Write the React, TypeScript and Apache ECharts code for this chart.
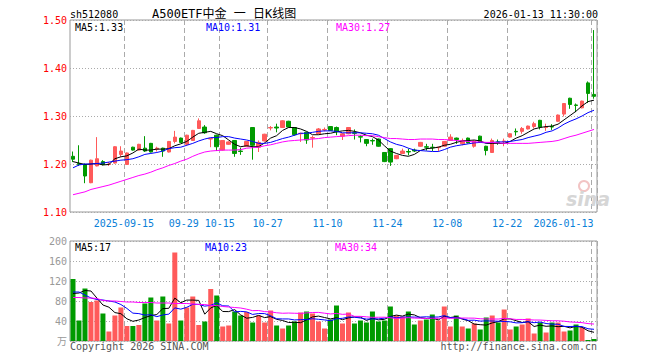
import React, { useEffect, useRef } from 'react';
import * as echarts from 'echarts';

const dates = [
  '2025-09-02','2025-09-03','2025-09-04','2025-09-05','2025-09-08','2025-09-09','2025-09-10','2025-09-11','2025-09-12',
  '2025-09-15','2025-09-16','2025-09-17','2025-09-18','2025-09-19','2025-09-22','2025-09-23','2025-09-24','2025-09-25','2025-09-26',
  '2025-09-29','2025-09-30','2025-10-09','2025-10-10','2025-10-13','2025-10-14','2025-10-15','2025-10-16','2025-10-17',
  '2025-10-20','2025-10-21','2025-10-22','2025-10-23','2025-10-24','2025-10-27','2025-10-28','2025-10-29','2025-10-30','2025-10-31',
  '2025-11-03','2025-11-04','2025-11-05','2025-11-06','2025-11-07','2025-11-10','2025-11-11','2025-11-12','2025-11-13','2025-11-14',
  '2025-11-17','2025-11-18','2025-11-19','2025-11-20','2025-11-21','2025-11-24','2025-11-25','2025-11-26','2025-11-27','2025-11-28',
  '2025-12-01','2025-12-02','2025-12-03','2025-12-04','2025-12-05','2025-12-08','2025-12-09','2025-12-10','2025-12-11','2025-12-12',
  '2025-12-15','2025-12-16','2025-12-17','2025-12-18','2025-12-19','2025-12-22','2025-12-23','2025-12-24','2025-12-25','2025-12-26',
  '2025-12-29','2025-12-30','2025-12-31','2026-01-05','2026-01-06','2026-01-07','2026-01-08','2026-01-09','2026-01-12','2026-01-13',
];

const tickDates = ['2025-09-15','2025-09-29','2025-10-15','2025-10-27','2025-11-10','2025-11-24','2025-12-08','2025-12-22','2026-01-13'];

const opens = [
  1.216,1.201,1.199,1.161,1.196,1.205,1.199,1.202,1.220,1.199,
  1.235,1.229,1.233,1.243,1.231,1.233,1.225,1.247,1.254,1.241,
  1.249,1.274,1.277,1.252,1.260,1.229,1.241,1.249,1.227,1.237,
  1.276,1.235,1.248,1.275,1.277,1.276,1.289,1.276,1.263,1.266,
  1.254,1.263,1.271,1.278,1.276,1.258,1.263,1.265,1.257,1.251,
  1.249,1.252,1.224,1.232,1.211,1.222,1.226,1.229,1.237,1.236,
  1.235,1.234,1.237,1.249,1.254,1.242,1.254,1.237,1.258,1.237,
  1.224,1.246,1.247,1.256,1.268,1.268,1.273,1.278,1.291,1.276,
  1.278,1.289,1.304,1.337,1.323,1.317,1.369,1.345,
];
const closes = [
  1.210,1.199,1.175,1.208,1.211,1.199,1.200,1.236,1.227,1.223,
  1.229,1.241,1.227,1.225,1.233,1.227,1.247,1.256,1.245,1.260,
  1.270,1.290,1.265,1.253,1.236,1.249,1.246,1.222,1.226,1.247,
  1.239,1.245,1.262,1.276,1.275,1.290,1.277,1.261,1.264,1.250,
  1.255,1.273,1.272,1.270,1.267,1.263,1.276,1.264,1.256,1.243,
  1.248,1.237,1.205,1.204,1.218,1.227,1.225,1.227,1.245,1.235,
  1.234,1.235,1.247,1.256,1.251,1.249,1.244,1.248,1.246,1.228,
  1.249,1.245,1.248,1.263,1.267,1.274,1.279,1.284,1.277,1.277,
  1.277,1.302,1.326,1.324,1.322,1.331,1.347,1.341,
];
const lows = [
  1.204,1.196,1.160,1.160,1.195,1.197,1.196,1.201,1.215,1.198,
  1.228,1.228,1.225,1.224,1.226,1.215,1.224,1.243,1.244,1.238,
  1.248,1.273,1.263,1.235,1.227,1.228,1.240,1.215,1.219,1.236,
  1.209,1.225,1.247,1.270,1.266,1.275,1.276,1.259,1.246,1.242,
  1.234,1.262,1.268,1.269,1.260,1.250,1.262,1.251,1.245,1.237,
  1.240,1.236,1.204,1.196,1.210,1.221,1.218,1.225,1.236,1.228,
  1.227,1.226,1.236,1.248,1.242,1.239,1.243,1.234,1.245,1.218,
  1.223,1.240,1.237,1.255,1.259,1.263,1.272,1.274,1.272,1.269,
  1.271,1.288,1.299,1.315,1.308,1.316,1.327,1.336,
];
const highs = [
  1.226,1.239,1.201,1.209,1.256,1.208,1.204,1.237,1.237,1.224,
  1.236,1.242,1.258,1.244,1.236,1.234,1.248,1.269,1.255,1.261,
  1.271,1.295,1.281,1.254,1.261,1.250,1.247,1.250,1.234,1.248,
  1.277,1.249,1.263,1.279,1.284,1.291,1.290,1.277,1.265,1.267,
  1.259,1.275,1.276,1.279,1.278,1.264,1.277,1.272,1.260,1.252,
  1.253,1.253,1.225,1.233,1.219,1.232,1.232,1.232,1.246,1.242,
  1.242,1.236,1.248,1.262,1.255,1.253,1.255,1.249,1.259,1.238,
  1.253,1.251,1.253,1.264,1.274,1.277,1.280,1.288,1.292,1.284,
  1.283,1.303,1.327,1.338,1.326,1.332,1.372,1.479,
];
const volumes = [
  124,41,105,78,81,55,19,51,67,30,
  30,32,75,87,41,89,35,177,41,67,
  89,32,39,104,91,29,31,59,51,58,
  37,51,37,61,31,25,31,39,57,59,
  55,39,25,43,71,35,57,35,41,37,
  59,39,41,69,51,49,59,33,41,43,
  53,41,69,29,51,29,25,35,23,47,
  51,37,63,23,29,33,45,15,37,17,
  37,37,19,21,33,27,2,4,
];
const ma5 = [
  1.205,1.202,1.199,1.200,1.201,1.198,1.199,1.211,1.215,1.217,
  1.223,1.231,1.229,1.229,1.231,1.231,1.232,1.238,1.242,1.247,
  1.256,1.264,1.266,1.268,1.263,1.259,1.250,1.241,1.236,1.238,
  1.236,1.236,1.244,1.254,1.259,1.270,1.276,1.276,1.273,1.268,
  1.261,1.261,1.263,1.264,1.267,1.269,1.270,1.268,1.265,1.260,
  1.257,1.250,1.238,1.227,1.222,1.218,1.216,1.220,1.228,1.232,
  1.233,1.235,1.239,1.241,1.245,1.248,1.249,1.250,1.248,1.243,
  1.243,1.243,1.243,1.247,1.254,1.259,1.266,1.273,1.276,1.278,
  1.279,1.283,1.292,1.301,1.310,1.321,1.330,1.333,
];
const ma10 = [
  1.192,1.198,1.200,1.200,1.201,1.202,1.204,1.206,1.208,1.209,
  1.211,1.215,1.220,1.222,1.224,1.227,1.232,1.234,1.235,1.239,
  1.243,1.248,1.252,1.255,1.255,1.257,1.257,1.254,1.252,1.250,
  1.247,1.243,1.243,1.245,1.249,1.253,1.256,1.260,1.264,1.264,
  1.266,1.268,1.269,1.269,1.268,1.265,1.265,1.265,1.265,1.264,
  1.263,1.260,1.253,1.246,1.241,1.238,1.233,1.229,1.228,1.227,
  1.226,1.226,1.230,1.235,1.238,1.240,1.242,1.244,1.245,1.244,
  1.245,1.246,1.246,1.247,1.249,1.251,1.255,1.258,1.261,1.266,
  1.269,1.275,1.283,1.289,1.294,1.300,1.307,1.312,
];
const ma30 = [
  1.136,1.139,1.142,1.147,1.150,1.153,1.156,1.160,1.164,1.168,
  1.172,1.176,1.179,1.183,1.188,1.192,1.197,1.201,1.206,1.210,
  1.216,1.221,1.225,1.227,1.228,1.229,1.229,1.229,1.230,1.233,
  1.234,1.235,1.238,1.240,1.243,1.246,1.248,1.249,1.250,1.251,
  1.252,1.253,1.255,1.256,1.257,1.258,1.259,1.260,1.260,1.259,
  1.259,1.257,1.255,1.253,1.253,1.252,1.251,1.251,1.252,1.252,
  1.252,1.251,1.251,1.250,1.249,1.248,1.247,1.246,1.246,1.245,
  1.245,1.244,1.243,1.243,1.243,1.243,1.243,1.244,1.245,1.246,
  1.247,1.249,1.253,1.257,1.260,1.264,1.268,1.272,
];
const volMa5 = [
  95,96,101,100,85.8,72,67.6,56.8,54.6,44.4,
  39.4,42,46.8,50.8,53,64.8,65.4,85.8,76.6,81.8,
  81.8,81.2,53.6,66.2,71,59,58.8,62.8,52.2,45.6,
  47.2,51.2,46.8,48.8,43.4,41,37,37.4,36.6,42.2,
  48.2,49.8,47,44.2,46.6,42.6,46.2,48.2,47.8,41,
  45.8,42.2,43.4,49,51.8,49.8,53.8,52.2,46.6,45,
  45.8,42.2,49.4,47,48.6,43.8,40.6,33.8,32.6,31.8,
  36.2,38.6,44.2,44.2,40.6,37,38.6,29,31.8,29.4,
  30.2,28.6,29.4,26.2,29.4,27.4,20.4,17.4,
];
const volMa10 = [
  98,98,92,86,83,82,80,78,73,65.1,
  55.7,54.8,51.8,52.7,48.7,52.1,53.7,66.3,63.7,67.4,
  73.3,73.3,69.7,71.4,76.4,70.4,70,58.2,59.2,58.3,
  53.1,55,54.8,50.5,44.5,44.1,44.1,42.1,42.7,42.8,
  44.6,43.4,42.2,40.4,44.4,45.4,48,47.6,46,43.8,
  44.2,44.2,45.8,48.4,46.4,47.8,48,47.8,47.8,48.4,
  47.8,48,50.8,46.8,46.8,44.8,41.4,41.6,39.8,40.2,
  40,39.6,39,38.4,36.2,36.6,38.6,36.6,38,35,
  33.6,33.6,29.2,29,29.4,28.8,24.5,23.4,
];
const volMa30 = [
  87,87,86,86,85,81,80,80,79,78,
  78,77,77,77,76,76,76,75,75,75,
  74,73,73,71,71,69,68,67,66,63.6,
  60.7,61,58.8,58.2,56.5,55.5,55.9,55.5,55.2,56.2,
  57,57.2,55.6,54.1,55.1,53.3,54,49.3,49.3,48.3,
  47.3,47.5,47.6,46.4,45.1,45.8,46.7,45.8,45.5,45,
  45.5,45.2,46.3,45.2,45.9,46,45.8,45.7,44.5,44.1,
  44,43.9,45.2,44.5,43.1,43.1,42.7,42,41.9,41.2,
  40.5,40.4,39.6,38.1,37.5,36.7,34.8,33.9,
];

const priceTicks = [1.1, 1.2, 1.3, 1.4, 1.5];
const volTicks = [0, 40, 80, 120, 160, 200];

const UP = '#ff5a5a';
const DOWN = '#009a00';
const MONO = '"DejaVu Sans Mono", monospace';
const MONO_CJK = '"DejaVu Sans Mono", "Noto Sans CJK SC", monospace';

export default function App() {
  const ref = useRef<HTMLDivElement>(null);

  useEffect(() => {
    if (!ref.current) return;
    const chart = echarts.init(ref.current, null, { renderer: 'svg' });
    const n = dates.length;
    const tickIdx = new Set(tickDates.map((d) => dates.indexOf(d)));
    const isTick = (i: number) => tickIdx.has(i);
    const candleData = dates.map((_, i) => [opens[i], closes[i], lows[i], highs[i]]);
    const volData = volumes.map((v, i) => ({
      value: v,
      itemStyle: { color: closes[i] >= opens[i] ? UP : DOWN },
    }));
    const last = n - 1;

    const vSplit = {
      show: true,
      interval: (i: number) => isTick(i),
      lineStyle: { color: '#aaaaaa', type: [5, 3], width: 1 },
    };

    const txt = (text: string, x: number, y: number, fill: string, opts: any = {}) => ({
      type: 'text',
      x,
      y,
      silent: true,
      z: 100,
      style: {
        text,
        fill,
        font: opts.font || `10px ${MONO}`,
        textAlign: opts.align || 'left',
        align: opts.align || 'left',
        textVerticalAlign: 'middle',
        verticalAlign: 'middle',
      },
    });

    const lineSeries = (data: number[], color: string, xi: number) => ({
      type: 'line',
      xAxisIndex: xi,
      yAxisIndex: xi,
      data,
      symbol: 'none',
      smooth: false,
      z: 5,
      lineStyle: { color, width: 1 },
      itemStyle: { color },
    });

    const option: any = {
      animation: false,
      backgroundColor: '#ffffff',
      grid: [
        { left: 70, top: 20, width: 527, height: 192, show: true, borderColor: '#999999', borderWidth: 1, backgroundColor: 'transparent' },
        { left: 70, top: 241, width: 527, height: 100, show: true, borderColor: '#999999', borderWidth: 1, backgroundColor: 'transparent' },
      ],
      xAxis: [
        {
          type: 'category',
          gridIndex: 0,
          data: dates,
          boundaryGap: true,
          axisLine: { show: false },
          axisTick: { show: false },
          axisLabel: {
            interval: (i: number) => isTick(i),
            margin: 6,
            formatter: (value: string, index: number) => {
              if (index === last) return `{l|${value}}`;
              if (index === dates.indexOf(tickDates[0])) return `{d|${value}}`;
              return `{d|${value.slice(5)}}`;
            },
            rich: {
              d: { color: '#0a80d8', fontFamily: MONO, fontSize: 10, padding: [0, 6, 0, 0] },
              l: { color: '#0a80d8', fontFamily: MONO, fontSize: 10, padding: [0, 61, 0, 0] },
            },
          },
          splitLine: vSplit,
        },
        {
          type: 'category',
          gridIndex: 1,
          data: dates,
          boundaryGap: true,
          axisLine: { show: false },
          axisTick: { show: false },
          axisLabel: { show: false },
          splitLine: vSplit,
        },
      ],
      yAxis: [
        {
          type: 'value',
          gridIndex: 0,
          min: priceTicks[0],
          max: priceTicks[priceTicks.length - 1],
          interval: 0.1,
          axisLine: { show: false },
          axisTick: { show: false },
          axisLabel: {
            color: '#ff0000',
            fontFamily: MONO,
            fontSize: 10,
            margin: 3,
            formatter: (v: number) => v.toFixed(2),
          },
          splitLine: { show: true, lineStyle: { color: '#aaaaaa', type: [1, 2], width: 1 } },
        },
        {
          type: 'value',
          gridIndex: 1,
          min: volTicks[0],
          max: volTicks[volTicks.length - 1],
          interval: 40,
          axisLine: { show: false },
          axisTick: { show: false },
          axisLabel: {
            color: '#999999',
            fontFamily: MONO_CJK,
            fontSize: 10,
            margin: 3,
            formatter: (v: number) => (v === 0 ? '万' : String(v)),
          },
          splitLine: { show: true, lineStyle: { color: '#aaaaaa', type: [1, 2], width: 1 } },
        },
      ],
      series: [
        {
          type: 'candlestick',
          xAxisIndex: 0,
          yAxisIndex: 0,
          data: candleData,
          barWidth: 4,
          z: 3,
          itemStyle: { color: UP, color0: DOWN, borderColor: UP, borderColor0: DOWN, borderWidth: 1 },
        },
        lineSeries(ma5, '#000000', 0),
        lineSeries(ma10, '#0000ff', 0),
        lineSeries(ma30, '#ff00ff', 0),
        {
          type: 'bar',
          xAxisIndex: 1,
          yAxisIndex: 1,
          data: volData,
          barWidth: 5,
          z: 3,
        },
        lineSeries(volMa5, '#000000', 1),
        lineSeries(volMa10, '#0000ff', 1),
        lineSeries(volMa30, '#ff00ff', 1),
      ],
      graphic: [
        txt('sh512080', 70, 14, '#000000'),
        txt('A500ETF中金 一 日K线图', 152, 14, '#000000', { font: `12px ${MONO_CJK}` }),
        txt('2026-01-13 11:30:00', 598, 14, '#000000', { align: 'right' }),
        txt('MA5:' + ma5[last].toFixed(2), 75, 27, '#000000'),
        txt('MA10:' + ma10[last].toFixed(2), 206, 27, '#0000ff'),
        txt('MA30:' + ma30[last].toFixed(2), 336, 27, '#ff00ff'),
        txt('MA5:' + Math.round(volMa5[last]), 75, 247, '#000000'),
        txt('MA10:' + Math.round(volMa10[last]), 205, 247, '#0000ff'),
        txt('MA30:' + Math.round(volMa30[last]), 335, 247, '#ff00ff'),
        txt('Copyright 2026 SINA.COM', 70, 346, '#555555'),
        txt('http://finance.sina.com.cn', 597, 346, '#555555', { align: 'right' }),
        {
          type: 'circle',
          silent: true,
          z: 1,
          shape: { cx: 584, cy: 186, r: 5 },
          style: { fill: 'none', stroke: '#f2c4c4', lineWidth: 2 },
        },
        txt('sina', 566, 199, '#d6d6d6', { font: `italic bold 19px "DejaVu Sans", sans-serif` }),
      ],
    };

    chart.setOption(option);
    return () => chart.dispose();
  }, []);

  return <div ref={ref} style={{ position: 'fixed', left: 0, top: 0, width: 660, height: 360 }} />;
}
